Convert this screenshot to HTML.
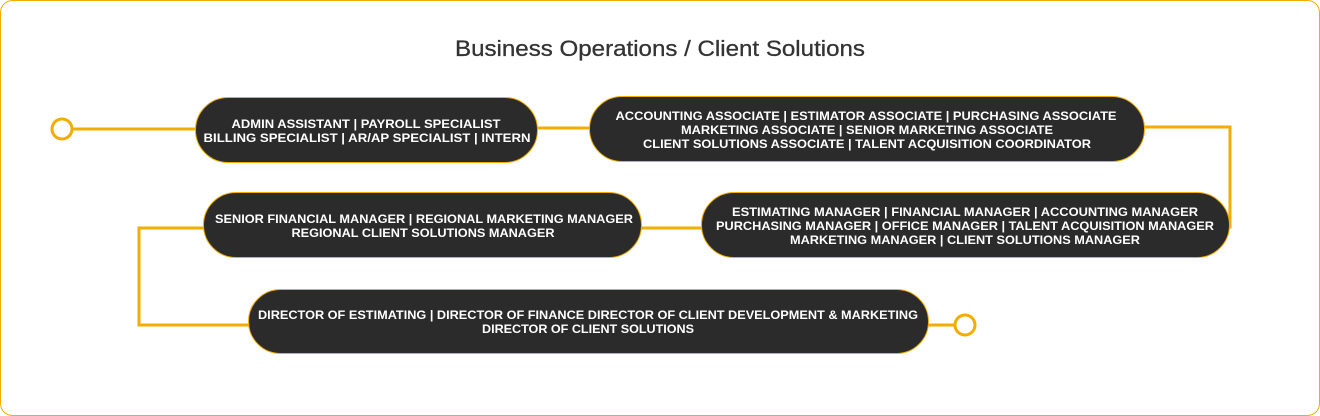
<!DOCTYPE html>
<html><head><meta charset="utf-8"><style>
html,body{margin:0;padding:0;background:#fff}
svg{display:block}
text.t{font-family:"Liberation Sans",sans-serif;font-weight:bold;font-size:12px;fill:#fff}
</style></head><body>
<svg width="1320" height="416" viewBox="0 0 1320 416">
<rect x="0.5" y="0.5" width="1319" height="415" rx="12" fill="#fff" stroke="#f2ad00" stroke-width="1"/>
<text x="660" y="56" text-anchor="middle" font-family="Liberation Sans, sans-serif" font-size="22" fill="#333" stroke="#333" stroke-width="0.3" textLength="410" lengthAdjust="spacingAndGlyphs">Business Operations / Client Solutions</text>
<g fill="none" stroke="#f2ad00" stroke-width="3">
<circle cx="62" cy="129" r="10"/>
<line x1="72" y1="129" x2="196" y2="129"/>
<line x1="536" y1="128" x2="590" y2="128"/>
<polyline points="1143,127 1230,127 1230,227 1228,227"/>
<line x1="640" y1="228" x2="702" y2="228"/>
<polyline points="204,228 139,228 139,325 249,325"/>
<line x1="927" y1="325" x2="955" y2="325"/>
<circle cx="965" cy="325" r="10"/>
</g>
<g fill="#2b2b2b" stroke="#f2ad00" stroke-width="1">
<rect x="195.5" y="97.5" width="342" height="65" rx="32.5"/>
<rect x="589.5" y="96.5" width="555" height="65" rx="32.5"/>
<rect x="203.5" y="192.5" width="438" height="65" rx="32.5"/>
<rect x="701.5" y="192.5" width="528" height="65" rx="32.5"/>
<rect x="248.5" y="289.5" width="680" height="64" rx="32"/>
</g>
<g text-anchor="middle">
<text class="t" x="366" y="128" textLength="269" lengthAdjust="spacingAndGlyphs">ADMIN ASSISTANT | PAYROLL SPECIALIST</text>
<text class="t" x="367" y="142" textLength="327" lengthAdjust="spacingAndGlyphs">BILLING SPECIALIST | AR/AP SPECIALIST | INTERN</text>
<text class="t" x="866" y="120" textLength="501" lengthAdjust="spacingAndGlyphs">ACCOUNTING ASSOCIATE | ESTIMATOR ASSOCIATE | PURCHASING ASSOCIATE</text>
<text class="t" x="867" y="134" textLength="372" lengthAdjust="spacingAndGlyphs">MARKETING ASSOCIATE | SENIOR MARKETING ASSOCIATE</text>
<text class="t" x="867" y="148" textLength="448" lengthAdjust="spacingAndGlyphs">CLIENT SOLUTIONS ASSOCIATE | TALENT ACQUISITION COORDINATOR</text>
<text class="t" x="424" y="223" textLength="418" lengthAdjust="spacingAndGlyphs">SENIOR FINANCIAL MANAGER | REGIONAL MARKETING MANAGER</text>
<text class="t" x="423" y="237" textLength="263" lengthAdjust="spacingAndGlyphs">REGIONAL CLIENT SOLUTIONS MANAGER</text>
<text class="t" x="965" y="216" textLength="466" lengthAdjust="spacingAndGlyphs">ESTIMATING MANAGER | FINANCIAL MANAGER | ACCOUNTING MANAGER</text>
<text class="t" x="965" y="230" textLength="498" lengthAdjust="spacingAndGlyphs">PURCHASING MANAGER | OFFICE MANAGER | TALENT ACQUISITION MANAGER</text>
<text class="t" x="965" y="244" textLength="350" lengthAdjust="spacingAndGlyphs">MARKETING MANAGER | CLIENT SOLUTIONS MANAGER</text>
<text class="t" x="588" y="319" textLength="660" lengthAdjust="spacingAndGlyphs">DIRECTOR OF ESTIMATING | DIRECTOR OF FINANCE DIRECTOR OF CLIENT DEVELOPMENT &amp; MARKETING</text>
<text class="t" x="588" y="333" textLength="212" lengthAdjust="spacingAndGlyphs">DIRECTOR OF CLIENT SOLUTIONS</text>
</g>
</svg>
</body></html>
